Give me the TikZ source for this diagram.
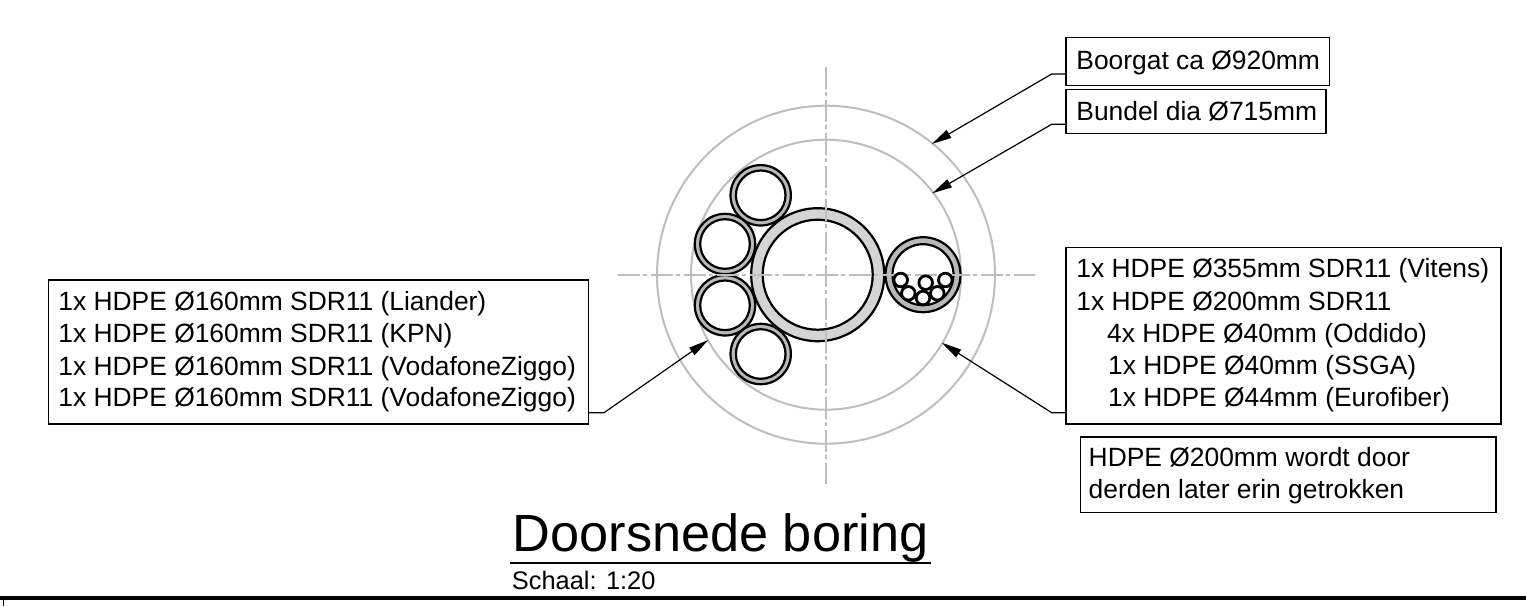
\documentclass[tikz,border=0pt]{standalone}
\usepackage{fontspec}
\setmainfont{Liberation Sans}
\usetikzlibrary{arrows.meta}
\definecolor{cgrey}{RGB}{190,190,190}
\definecolor{wallg}{RGB}{185,185,185}
\definecolor{wallb}{RGB}{212,212,212}
\tikzset{
 x=1pt,y=-1pt,
 centre/.style={draw=cgrey,line width=2pt,dash pattern=on 22pt off 3pt on 4pt off 4pt},
 bore/.style={draw=cgrey,line width=2pt},
 wall/.style={draw=black,line width=2.2pt,fill=wallg},
 bigwall/.style={draw=black,line width=2.2pt,fill=wallb},
 hole/.style={draw=black,line width=2.2pt,fill=white},
 tinywall/.style={draw=black,line width=2.8pt,fill=white},
 label/.style={draw=black,line width=1.2pt,fill=white,inner sep=0pt,outer sep=0pt},
 labeltext/.style={anchor=base west,inner sep=0pt,font=\fontsize{26.4}{30}\selectfont},
 leader/.style={draw=black,line width=1.2pt,-{Triangle[length=20pt,width=9pt]}},
}
\begin{document}
\begin{tikzpicture}
\useasboundingbox (0,0) rectangle (1526,606);
\fill[white] (0,0) rectangle (1526,606);
\draw[bore] (826,274.7) circle (169);
\draw[bore] (826,274.7) circle (135);
\foreach \cx/\cy in {760.7/195.3,725/244,725/305.3,760.7/354}{
 \draw[wall] (\cx,\cy) circle (30.2);
 \draw[hole] (\cx,\cy) circle (24.8);
}
\draw[bigwall] (817.7,274.7) circle (66.5);
\draw[hole] (817.7,274.7) circle (55);
\draw[wall] (923,274.7) circle (37.5);
\draw[hole] (923,274.7) circle (30.5);
\draw[centre] (826,67) -- (826,484);
\draw[centre] (618,274.7) -- (1035,274.7);
\foreach \cx/\cy in {900.7/280,908.3/293.3,923/298,925.7/282.7,937.3/293.3,945.3/280}{
 \draw[tinywall] (\cx,\cy) circle (6.8);
}
\coordinate (a1) at (931.7,144);
\coordinate (a2) at (932.3,193.3);
\coordinate (a3) at (708.3,340);
\coordinate (a4) at (941.7,342.7);
\coordinate (s1) at (1051.7,74);
\coordinate (s2) at (1051.7,124.3);
\coordinate (s3) at (1051.7,412.7);
\coordinate (s5) at (604,412.7);
\path[label] (1066,37.3) rectangle (1329.3,85.3);
\path[label] (1066,89.3) rectangle (1326,133.3);
\path[label] (1066,247.7) rectangle (1501,424);
\path[label] (1080.7,437) rectangle (1496,512.3);
\path[label] (48.4,280) rectangle (588.7,424);
\node[labeltext] (b1) at (1076.2,69.3) {Boorgat ca Ø920mm};
\node[labeltext] (b2) at (1076.2,120.7) {Bundel dia Ø715mm};
\node[labeltext] (b3a) at (1076.2,277.7) {1x HDPE Ø355mm SDR11 (Vitens)};
\node[labeltext] (b3b) at (1076.2,310.3) {1x HDPE Ø200mm SDR11};
\node[labeltext] (b3c) at (1107,342.7) {4x HDPE Ø40mm (Oddido)};
\node[labeltext] (b3d) at (1108,374.3) {1x HDPE Ø40mm (SSGA)};
\node[labeltext] (b3e) at (1108,406.7) {1x HDPE Ø44mm (Eurofiber)};
\node[labeltext] (b4a) at (1088.5,466) {HDPE Ø200mm wordt door};
\node[labeltext] (b4b) at (1088.5,498.3) {derden later erin getrokken};
\node[labeltext] (b5a) at (58.2,310.7) {1x HDPE Ø160mm SDR11 (Liander)};
\node[labeltext] (b5b) at (58.2,342.7) {1x HDPE Ø160mm SDR11 (KPN)};
\node[labeltext] (b5c) at (58.2,375) {1x HDPE Ø160mm SDR11 (VodafoneZiggo)};
\node[labeltext] (b5d) at (58.2,406.7) {1x HDPE Ø160mm SDR11 (VodafoneZiggo)};
\draw[leader] (1066,74) -- (s1) -- (a1);
\draw[leader] (1066,124.3) -- (s2) -- (a2);
\draw[leader] (1066,412.7) -- (s3) -- (a4);
\draw[leader] (588.7,412.7) -- (s5) -- (a3);
\node[anchor=base west,inner sep=0pt,font=\fontsize{52.3}{56}\selectfont] (title) at (512.5,551.7) {Doorsnede boring};
\draw[black,line width=1.8pt] (510,562.7) -- (931,562.7);
\node[anchor=base west,inner sep=0pt,font=\fontsize{25.4}{30}\selectfont] (scale) at (511.7,589) {Schaal: 1:20};
\draw[black,line width=4pt] (0,598) -- (1526,598);
\draw[black,line width=1pt] (3.5,598) -- (3.5,606);
\end{tikzpicture}
\end{document}
